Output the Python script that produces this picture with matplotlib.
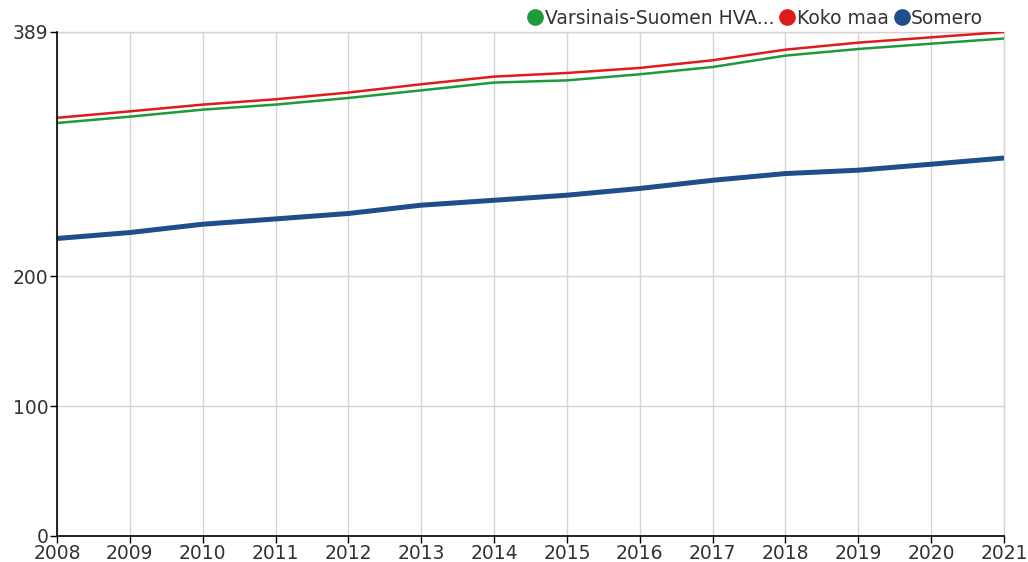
import numpy as np
import matplotlib
matplotlib.use('Agg')
import matplotlib.pyplot as plt
from matplotlib.lines import Line2D

# data
years = [2008, 2009, 2010, 2011, 2012, 2013, 2014, 2015, 2016, 2017, 2018, 2019, 2020, 2021]
varsinais_suomi = [318.4, 323.3, 328.7, 332.6, 337.7, 343.6, 349.6, 351.3, 356.0, 361.6, 370.4, 375.5, 379.6, 383.6]
koko_maa = [322.4, 327.4, 332.6, 336.7, 341.9, 348.3, 354.2, 357.0, 360.9, 366.8, 375.0, 380.4, 384.5, 388.6]
somero = [229.3, 233.9, 240.3, 244.4, 248.6, 255.0, 258.8, 262.7, 267.9, 274.2, 279.4, 282.0, 286.6, 291.4]
yticks = [0, 100, 200, 389]
names = ['Varsinais-Suomen HVA...', 'Koko maa', 'Somero']
colors = ['#1f9a3a', '#e01b1b', '#1f4e8c']

plt.rcParams['font.family'] = 'DejaVu Sans'
fig = plt.figure(figsize=(10.28, 5.62), dpi=100)
ax = fig.add_axes([57/1028, (562-535.7)/562, 947/1028, 504.2/562])

ax.plot(years, varsinais_suomi, color=colors[0], lw=1.8, solid_capstyle='butt')
ax.plot(years, koko_maa, color=colors[1], lw=1.8, solid_capstyle='butt')
ax.plot(years, somero, color=colors[2], lw=3.6, solid_capstyle='butt')

ax.set_xlim(2008, 2021)
ax.set_ylim(0, 389)
ax.set_xticks(years)
ax.set_yticks(yticks)
ax.grid(True, color='#d4d4d4', lw=1)
ax.axvline(2021, color='#d4d4d4', lw=1, clip_on=False, zorder=0)
ax.axhline(389, color='#d4d4d4', lw=1, clip_on=False, zorder=0)
ax.set_axisbelow(True)
for s in ['top', 'right']:
    ax.spines[s].set_visible(False)
for s in ['left', 'bottom']:
    ax.spines[s].set_color('black')
    ax.spines[s].set_linewidth(1.2)
ax.tick_params(length=5, width=1, labelsize=13.5, labelcolor='#333333', pad=1)

handles = [Line2D([], [], ls='none', marker='o', ms=11, color=c) for c in colors]
ax.legend(handles, names, ncol=3, loc='lower right', bbox_to_anchor=(0.982, 1.0),
          frameon=False, handletextpad=0.0, columnspacing=0.2, handlelength=1.0,
          fontsize=13.5, labelcolor='#333333', borderaxespad=0.1, borderpad=0.1)

plt.savefig('out.png', dpi=100)
